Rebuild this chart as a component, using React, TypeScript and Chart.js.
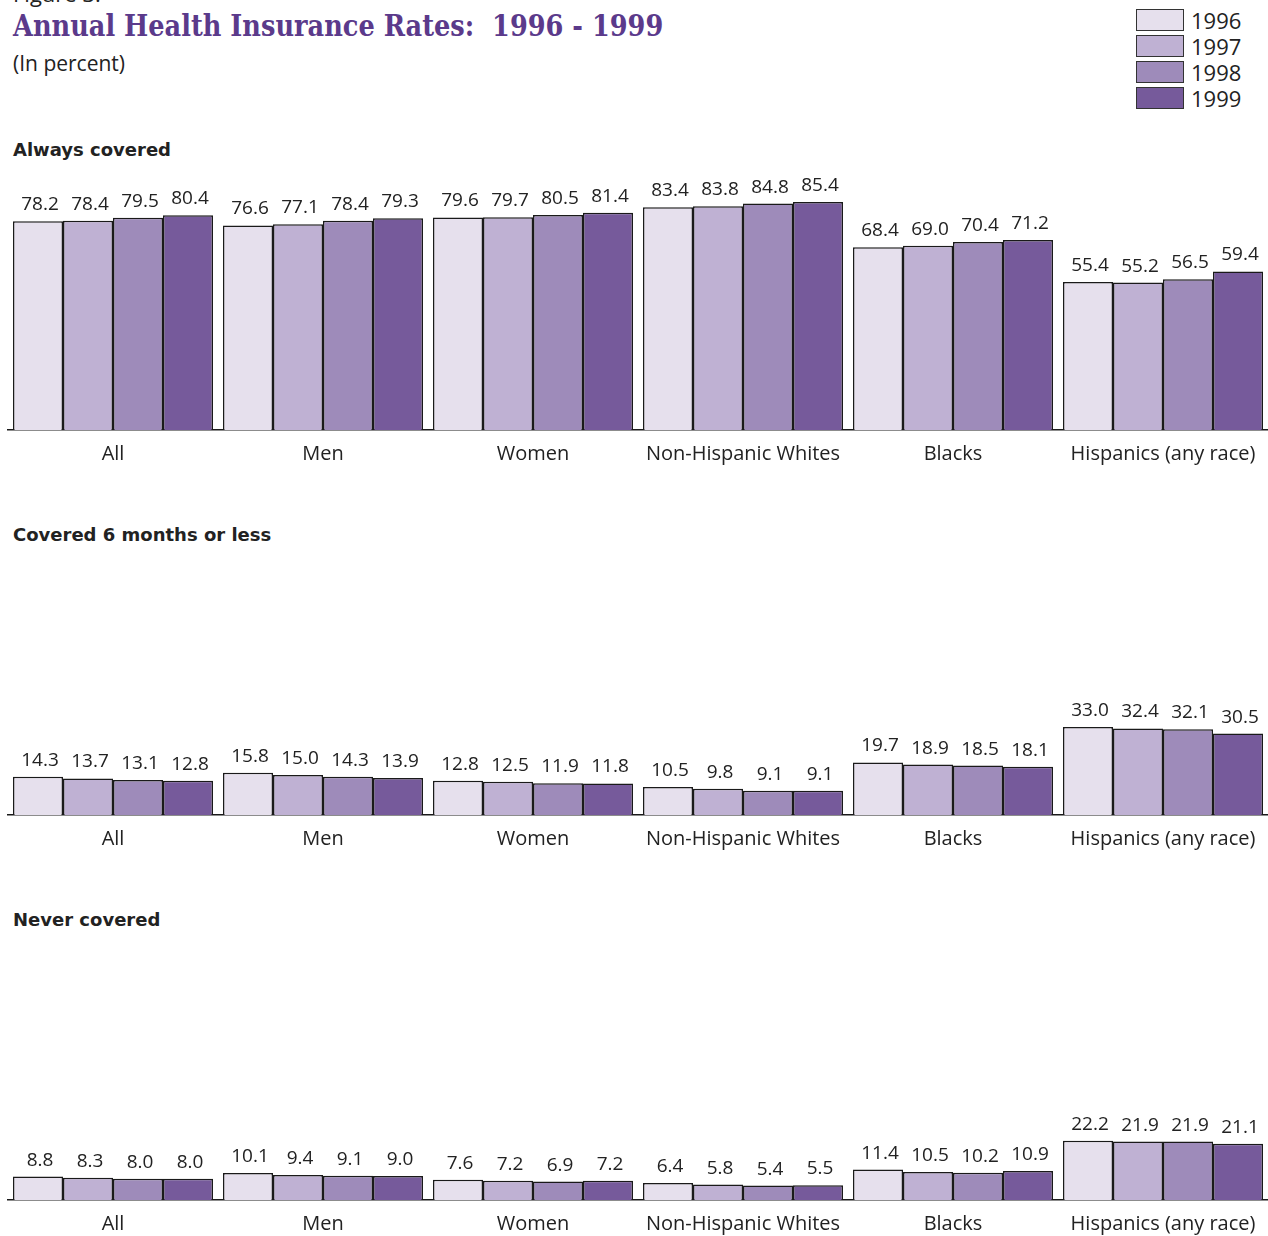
import React, { useEffect, useRef } from "react";
import { Chart, registerables } from "chart.js";

Chart.register(...registerables);

const categories = ["All", "Men", "Women", "Non-Hispanic Whites", "Blacks", "Hispanics (any race)"];
const years = ["1996", "1997", "1998", "1999"];
const yearColors = ["#e6e0ed", "#bfb1d3", "#9e8bba", "#765a9b"];

const always1996 = [78.2, 76.6, 79.6, 83.4, 68.4, 55.4];
const always1997 = [78.4, 77.1, 79.7, 83.8, 69.0, 55.2];
const always1998 = [79.5, 78.4, 80.5, 84.8, 70.4, 56.5];
const always1999 = [80.4, 79.3, 81.4, 85.4, 71.2, 59.4];

const six1996 = [14.3, 15.8, 12.8, 10.5, 19.7, 33.0];
const six1997 = [13.7, 15.0, 12.5, 9.8, 18.9, 32.4];
const six1998 = [13.1, 14.3, 11.9, 9.1, 18.5, 32.1];
const six1999 = [12.8, 13.9, 11.8, 9.1, 18.1, 30.5];

const never1996 = [8.8, 10.1, 7.6, 6.4, 11.4, 22.2];
const never1997 = [8.3, 9.4, 7.2, 5.8, 10.5, 21.9];
const never1998 = [8.0, 9.1, 6.9, 5.4, 10.2, 21.9];
const never1999 = [8.0, 9.0, 7.2, 5.5, 10.9, 21.1];

const panelTitles = ["Always covered", "Covered 6 months or less", "Never covered"];
const panelSeries = [
  [always1996, always1997, always1998, always1999],
  [six1996, six1997, six1998, six1999],
  [never1996, never1997, never1998, never1999],
];

const SANS = "'Open Sans', 'DejaVu Sans', sans-serif";
const BASELINES = [430, 815, 1200];
const AREA_H = 267;
const TOP_PAD = 23;
const AXIS_H = 45;

const valueLabels = {
  id: "valueLabels",
  afterDatasetsDraw(chart: any) {
    const ctx = chart.ctx;
    ctx.save();
    ctx.font = `19px ${SANS}`;
    ctx.fillStyle = "#222";
    ctx.textAlign = "center";
    ctx.textBaseline = "alphabetic";
    chart.data.datasets.forEach((ds: any, di: number) => {
      const meta = chart.getDatasetMeta(di);
      meta.data.forEach((bar: any, i: number) => {
        const v = ds.data[i];
        ctx.fillText(Number(v).toFixed(1), bar.x + 2, bar.y - 11);
      });
    });
    ctx.restore();
  },
};

function Panel({ series, top }: { series: number[][]; top: number }) {
  const ref = useRef<HTMLCanvasElement>(null);
  useEffect(() => {
    if (!ref.current) return;
    const chart = new Chart(ref.current, {
      type: "bar",
      data: {
        labels: categories,
        datasets: years.map((y, k) => ({
          label: y,
          data: series[k],
          backgroundColor: yearColors[k],
          borderColor: "#1a1a1a",
          borderWidth: 1.5,
          categoryPercentage: 200 / 210,
          barPercentage: 1,
        })),
      },
      options: {
        animation: false,
        responsive: false,
        maintainAspectRatio: false,
        layout: { padding: { left: 8, right: 0, top: TOP_PAD, bottom: 0 } },
        plugins: { legend: { display: false }, tooltip: { enabled: false }, title: { display: false } },
        scales: {
          x: {
            grid: { display: false, drawTicks: false },
            border: { display: true, color: "#1a1a1a", width: 1.5 },
            ticks: { color: "#222", font: { family: SANS, size: 20 }, padding: 12, maxRotation: 0, autoSkip: false },
            afterFit: (scale: any) => {
              scale.height = AXIS_H;
            },
          },
          y: { display: false, min: 0, max: 100 },
        },
      },
      plugins: [valueLabels],
    });
    return () => chart.destroy();
  }, [series]);
  return (
    <canvas
      ref={ref}
      width={1268}
      height={TOP_PAD + AREA_H + AXIS_H}
      style={{ position: "absolute", left: 0, top, width: 1268, height: TOP_PAD + AREA_H + AXIS_H }}
    />
  );
}

export default function App() {
  return (
    <div style={{ position: "absolute", left: 0, top: 0, width: 1268, height: 1236, overflow: "hidden", background: "#fff", color: "#222" }}>
      <div style={{ position: "absolute", left: 13, top: -22, fontFamily: SANS, fontSize: 22 }}>Figure 3:</div>
      <div
        style={{
          position: "absolute",
          left: 13,
          top: 9,
          fontFamily: "'DejaVu Serif', serif",
          fontWeight: "bold",
          fontSize: 29,
          lineHeight: "34px",
          color: "#5b3a8b",
          whiteSpace: "pre",
          transform: "scaleX(0.884)",
          transformOrigin: "left top",
        }}
      >
        {"Annual Health Insurance Rates:  1996 - 1999"}
      </div>
      <div style={{ position: "absolute", left: 13, top: 49, fontFamily: SANS, fontSize: 21 }}>(In percent)</div>
      {years.map((y, k) => (
        <div key={y} style={{ position: "absolute", left: 1136, top: 8 + k * 26, height: 24, display: "flex", alignItems: "center" }}>
          <div style={{ width: 46, height: 20, background: yearColors[k], border: "1.5px solid #333" }} />
          <div style={{ marginLeft: 7, fontFamily: SANS, fontSize: 22, lineHeight: "24px" }}>{y}</div>
        </div>
      ))}
      {panelTitles.map((t, p) => (
        <div key={t} style={{ position: "absolute", left: 13, top: BASELINES[p] - 291, fontFamily: "'DejaVu Sans', sans-serif", fontWeight: "bold", fontSize: 18 }}>
          {t}
        </div>
      ))}
      {panelSeries.map((s, p) => (
        <Panel key={p} series={s} top={BASELINES[p] - TOP_PAD - AREA_H} />
      ))}
    </div>
  );
}
